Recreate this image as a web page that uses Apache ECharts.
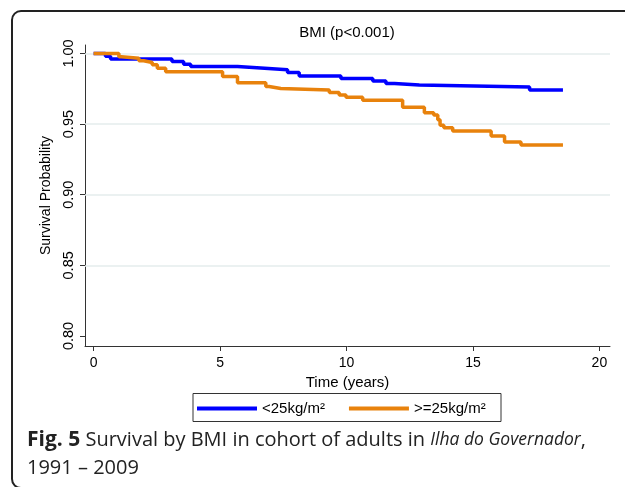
<!DOCTYPE html>
<html><head><meta charset="utf-8">
<script src="https://cdn.jsdelivr.net/npm/echarts@6/dist/echarts.min.js"></script>
<style>html,body{margin:0;padding:0;background:#fff;}#c{width:625px;height:487px;}</style>
</head><body><div id="c"></div>
<script>
const seriesNames = ['<25kg/m\u00b2', '>=25kg/m\u00b2'];
const blueTimes = [0, 0.47, 0.67, 3.1, 3.56, 3.84, 5.69, 6.61, 7.67, 8.13, 9.78, 11.04, 11.56, 11.9, 12.88, 17.24, 18.56];
const blueSurv  = [1.000, 0.998, 0.996, 0.9943, 0.9924, 0.9908, 0.9898, 0.9885, 0.9865, 0.9840, 0.9823, 0.9806, 0.9787, 0.9777, 0.9763, 0.9742, 0.9742];
const orangeTimes = [0, 1.0, 1.1, 1.79, 1.98, 2.32, 2.52, 2.85, 5.1, 5.69, 6.81, 6.94, 7.4, 9.32, 9.71, 9.98, 10.64, 12.22, 13.08, 13.45, 13.61, 13.7, 13.85, 14.2, 15.72, 16.25, 16.9, 18.56];
const orangeSurv  = [1.000, 0.9976, 0.9967, 0.9948, 0.9936, 0.9920, 0.9896, 0.9870, 0.9837, 0.9792, 0.9766, 0.9752, 0.9742, 0.9723, 0.9706, 0.9690, 0.9669, 0.9619, 0.9580, 0.9565, 0.9530, 0.9491, 0.9475, 0.9451, 0.9416, 0.9373, 0.9352, 0.9352];
const xTicks = [0, 5, 10, 15, 20];
const yTicks = [0.80, 0.85, 0.90, 0.95, 1.00];
const yGrid = [0.85, 0.90, 0.95, 1.00];
const titleText = 'BMI (p<0.001)';
const xTitle = 'Time (years)';
const yTitle = 'Survival Probability';
const captionBold = 'Fig. 5';
const captionText = ' Survival by BMI in cohort of adults in ';
const captionItalic = 'Ilha do Governador';
const captionLine2 = '1991 \u2013 2009';

const SANS = '"Liberation Sans", Arial, sans-serif';
const CAP = '"Open Sans", "Noto Sans", sans-serif';
function pairs(t, s) { return t.map((v, i) => [v, s[i]]); }

const chart = echarts.init(document.getElementById('c'), null, {renderer: 'canvas'});
chart.setOption({
  animation: false,
  backgroundColor: '#fff',
  grid: {left: 85, right: 15, top: 45, bottom: 141, containLabel: false, outerBoundsMode: 'none'},
  legend: {
    left: 197, top: 401, padding: 0, itemWidth: 60, itemHeight: 4, itemGap: 24, icon: 'rect',
    data: seriesNames,
    textStyle: {fontSize: 15, fontFamily: SANS, color: '#000', padding: [0, 0, 0, 0]}
  },
  xAxis: {
    type: 'value', min: -0.34, max: 20.42,
    axisLine: {show: true, onZero: false, lineStyle: {color: '#333', width: 1}},
    axisTick: {show: true, customValues: xTicks, length: 5, lineStyle: {color: '#333'}},
    axisLabel: {customValues: xTicks, fontSize: 14, fontFamily: SANS, color: '#000', margin: 10},
    splitLine: {show: false},
    name: xTitle, nameLocation: 'middle', nameGap: 23,
    nameTextStyle: {fontSize: 15, fontFamily: SANS, color: '#000'}
  },
  yAxis: {
    type: 'value', min: 0.7929, max: 1.006,
    axisLine: {show: true, onZero: false, lineStyle: {color: '#333', width: 1}},
    axisTick: {show: true, customValues: yTicks, length: 5, lineStyle: {color: '#333'}},
    axisLabel: {customValues: yTicks, rotate: 90, fontSize: 14.5, fontFamily: SANS, color: '#000', margin: 9,
      formatter: v => Number(v).toFixed(2)},
    splitLine: {show: false},
    name: yTitle, nameLocation: 'middle', nameGap: 32, nameRotate: 90,
    nameTextStyle: {fontSize: 14, fontFamily: SANS, color: '#000'}
  },
  series: [
    {
      type: 'line', name: 'grid', data: [], silent: true, z: 1,
      markLine: {
        silent: true, z: 1, symbol: ['none', 'none'], label: {show: false}, animation: false,
        lineStyle: {color: '#e4eded', width: 1.5, type: 'solid'},
        emphasis: {disabled: true},
        data: yGrid.map(v => ({yAxis: v}))
      }
    },
    {
      type: 'line', name: seriesNames[0], data: pairs(blueTimes, blueSurv), step: 'end',
      symbol: 'none', showSymbol: false, z: 3,
      lineStyle: {color: '#0000ff', width: 3.5}, itemStyle: {color: '#0000ff'}
    },
    {
      type: 'line', name: seriesNames[1], data: pairs(orangeTimes, orangeSurv), step: 'end',
      symbol: 'none', showSymbol: false, z: 4,
      lineStyle: {color: '#e8820c', width: 3.5}, itemStyle: {color: '#e8820c'}
    }
  ],
  graphic: [
    {type: 'rect', silent: true, z: 0, shape: {x: 12, y: 11, width: 900, height: 477, r: 9},
      style: {fill: 'none', stroke: '#222', lineWidth: 2}},
    {type: 'rect', silent: true, shape: {x: 193, y: 393.5, width: 308, height: 28},
      style: {fill: 'none', stroke: '#333', lineWidth: 1}},
    {type: 'text', silent: true, x: 347, y: 33,
      style: {text: titleText, fontSize: 15, fontFamily: SANS, fill: '#000', align: 'center', verticalAlign: 'middle'}},
    {type: 'text', silent: true, x: 27, y: 426,
      style: {
        text: '{b|' + captionBold + '}{n|' + captionText + '}{i|' + captionItalic + '}{n|,}\n{n|' + captionLine2 + '}',
        fill: '#222', fontSize: 20, fontFamily: CAP, lineHeight: 28,
        rich: {
          b: {fontWeight: 'bold', fontSize: 21, fontFamily: CAP, fill: '#222', lineHeight: 28},
          n: {fontSize: 20, fontFamily: CAP, fill: '#222', lineHeight: 28},
          i: {fontStyle: 'italic', fontSize: 17.5, fontFamily: CAP, fill: '#222', lineHeight: 28}
        }
      }}
  ]
});
</script>
</body></html>
